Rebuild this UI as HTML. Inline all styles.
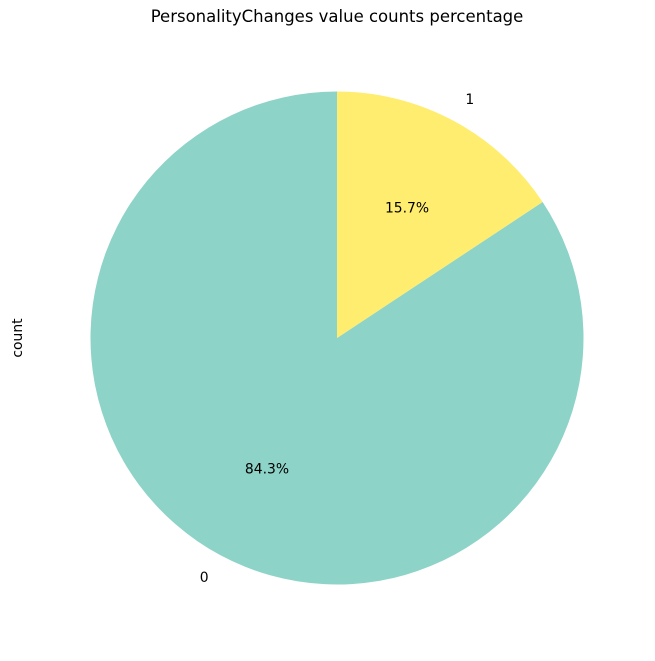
<!DOCTYPE html>
<html><head><meta charset="utf-8"><style>
body{margin:0;background:#fff;}
svg text{font-family:"DejaVu Sans","Liberation Sans",sans-serif;}
</style></head><body>
<svg id="chart" width="655" height="656" viewBox="0 0 655 656" xmlns="http://www.w3.org/2000/svg">
<text x="337" y="22" text-anchor="middle" font-size="16.5">PersonalityChanges value counts percentage</text>
<text x="0" y="0" transform="translate(22,338) rotate(-90)" text-anchor="middle" font-size="13.9">count</text>
<g id="slices"></g>
</svg>
<script>
const categories = ["0", "1"];
const values = [84.3, 15.7];
const colors = ["#8dd3c7", "#ffed6f"];
const cx = 337, cy = 338, r = 246.5;
const svg = document.getElementById('slices');
const NS = "http://www.w3.org/2000/svg";
const total = values.reduce((a,b)=>a+b,0);
let start = 90;
function pt(angDeg, rad){const a=angDeg*Math.PI/180;return [cx+rad*Math.cos(a), cy-rad*Math.sin(a)];}
values.forEach((v,i)=>{
  const sweep = v/total*360;
  const end = start + sweep;
  const [x1,y1]=pt(start,r), [x2,y2]=pt(end,r);
  const large = sweep>180?1:0;
  const p=document.createElementNS(NS,'path');
  p.setAttribute('d',`M${cx},${cy} L${x1},${y1} A${r},${r} 0 ${large} 0 ${x2},${y2} Z`);
  p.setAttribute('fill',colors[i]);
  
  
  svg.appendChild(p);
  const mid=start+sweep/2;
  const [lx,ly]=pt(mid,r*1.1);
  const t=document.createElementNS(NS,'text');
  t.setAttribute('x',lx);t.setAttribute('y',ly+5);
  t.setAttribute('font-size','13.9');
  t.setAttribute('text-anchor', Math.cos(mid*Math.PI/180)<0?'end':'start');
  t.textContent=categories[i];
  
  
  svg.appendChild(t);
  const [px,py]=pt(mid,r*0.6);
  const t2=document.createElementNS(NS,'text');
  t2.setAttribute('x',px);t2.setAttribute('y',py+5);
  t2.setAttribute('font-size','13.9');
  t2.setAttribute('text-anchor','middle');
  t2.textContent=(v/total*100).toFixed(1)+'%';
  
  
  svg.appendChild(t2);
  start=end;
});
</script>
</body></html>
